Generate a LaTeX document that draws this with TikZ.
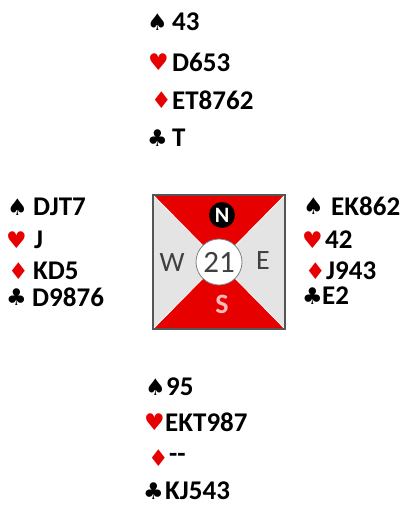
\documentclass[tikz,border=0pt]{standalone}
\usepackage{fontspec}
\setmainfont{Carlito}
\newfontfamily\suitfont{DejaVu Sans}
\definecolor{cardred}{RGB}{230,0,0}
\definecolor{boxgrey}{RGB}{228,228,228}
\definecolor{edgegrey}{RGB}{85,85,85}
\definecolor{lettergrey}{RGB}{64,64,64}
\definecolor{spink}{RGB}{255,185,185}
\begin{document}
\begin{tikzpicture}[x=1pt,y=-1pt,
  cards/.style={anchor=west,inner sep=0pt,font=\bfseries\fontsize{27}{27}\selectfont},
  suit/.style={anchor=west,inner sep=0pt,font=\suitfont\fontsize{23}{23}\selectfont},
  redsuit/.style={suit,text=cardred},
  compass/.style={inner sep=0pt,text=lettergrey,font=\fontsize{28}{28}\selectfont}]
\useasboundingbox (0,0) rectangle (401,506);
% box
\coordinate (tl) at (153,195);
\coordinate (tr) at (285,195);
\coordinate (bl) at (153,329);
\coordinate (br) at (285,329);
\coordinate (c) at (219,262);
\fill[boxgrey] (tl) rectangle (br);
\fill[cardred] (tl) -- (tr) -- (c) -- cycle;
\fill[cardred] (bl) -- (br) -- (c) -- cycle;
\draw[white,line width=0.8pt] (tl) -- (br) (tr) -- (bl);
\draw[edgegrey,line width=1.2pt] (tl) rectangle (br);
\node[circle,draw=gray,line width=0.8pt,fill=white,minimum size=46pt,inner sep=0pt,text=lettergrey,font=\fontsize{31}{31}\selectfont] (ctr) at (c) {21};
\node[circle,fill=black,minimum size=26pt,inner sep=0pt,text=white,font=\bfseries\fontsize{22}{22}\selectfont] (nn) at (222,215) {N};
\node[compass] (ww) at (172,263) {W};
\node[compass] (ee) at (263,261) {E};
\node[compass,text=spink,font=\bfseries\fontsize{28}{28}\selectfont] (ss) at (222,304) {S};
% North
\node[suit] (ns) at (147,22) {♠};
\node[cards] (nsc) at (172,22) {43};
\node[redsuit] (nh) at (148,62) {♥};
\node[cards] (nhc) at (172,62) {D653};
\node[redsuit] (nd) at (151,100) {♦};
\node[cards] (ndc) at (172,100) {ET8762};
\node[suit] (nc) at (147,138) {♣};
\node[cards] (ncc) at (172,138) {T};
% West
\node[suit] (ws) at (7,207) {♠};
\node[cards] (wsc) at (33,207) {DJT7};
\node[redsuit] (wh) at (6,240) {♥};
\node[cards] (whc) at (34,240) {J};
\node[redsuit] (wd) at (8,271) {♦};
\node[cards] (wdc) at (33,271) {KD5};
\node[suit] (wc) at (6,297) {♣};
\node[cards] (wcc) at (32,297) {D9876};
% East
\node[suit] (es) at (303,206) {♠};
\node[cards] (esc) at (331,206) {EK862};
\node[redsuit] (eh) at (302,240) {♥};
\node[cards] (ehc) at (325,240) {42};
\node[redsuit] (ed) at (305,271) {♦};
\node[cards] (edc) at (326,271) {J943};
\node[suit] (ec) at (302,296) {♣};
\node[cards] (ecc) at (322,296) {E2};
% South
\node[suit] (ss1) at (145,387) {♠};
\node[cards] (ssc) at (166,387) {95};
\node[redsuit] (sh) at (144,422) {♥};
\node[cards] (shc) at (165,422) {EKT987};
\node[redsuit] (sd) at (148,458) {♦};
\node[cards] (sdc) at (169,458) {-{}-};
\node[suit] (sc) at (143,491) {♣};
\node[cards] (scc) at (165,491) {KJ543};
\end{tikzpicture}
\end{document}
